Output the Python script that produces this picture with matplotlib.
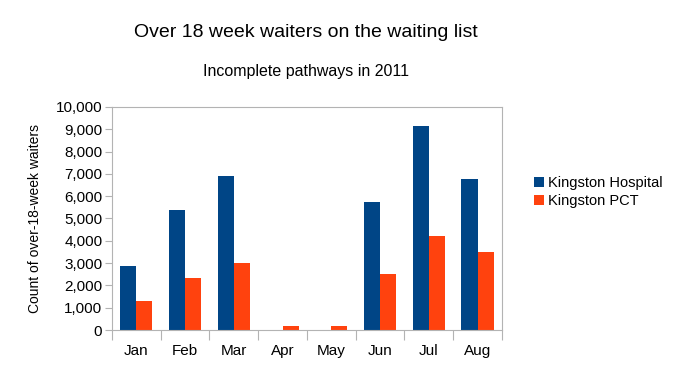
import numpy as np
import matplotlib.pyplot as plt
from matplotlib.ticker import FuncFormatter

plt.rcParams['font.family'] = ['Liberation Sans', 'DejaVu Sans']

months = ['Jan', 'Feb', 'Mar', 'Apr', 'May', 'Jun', 'Jul', 'Aug']
hospital = [2870, 5380, 6890, 0, 0, 5720, 9160, 6760]
pct = [1300, 2320, 3020, 180, 170, 2510, 4230, 3490]

fig = plt.figure(figsize=(6.81, 3.84), dpi=100)
ax = fig.add_axes([0.1645, 0.1406, 0.5725, 0.5808])

x = np.arange(len(months))
w = 0.33
ax.bar(x - w / 2, hospital, w, color='#004586', label='Kingston Hospital')
ax.bar(x + w / 2, pct, w, color='#ff420e', label='Kingston PCT')

ax.set_xlim(-0.5, len(months) - 0.5)
ax.set_ylim(0, 10000)
ax.set_yticks(np.arange(0, 10001, 1000))
ax.yaxis.set_major_formatter(FuncFormatter(lambda v, p: f'{int(v):,}'))

# category boundaries get tick marks, labels sit in between
ax.set_xticks(np.arange(-0.5, len(months), 1))
ax.set_xticklabels([])
ax.set_xticks(x, minor=True)
ax.set_xticklabels(months, minor=True)
ax.tick_params(axis='x', which='major', length=7, color='#b3b3b3')
ax.tick_params(axis='x', which='minor', length=0, pad=10, labelsize=11)
ax.tick_params(axis='y', length=5, color='#b3b3b3', labelsize=11, pad=2)

for s in ax.spines.values():
    s.set_color('#b3b3b3')

ax.set_ylabel('Count of over-18-week waiters', fontsize=10, labelpad=10)

fig.text(0.449, 0.915, 'Over 18 week waiters on the waiting list', ha='center', va='center', fontsize=14)
fig.text(0.449, 0.815, 'Incomplete pathways in 2011', ha='center', va='center', fontsize=11.5)

fig.legend(loc='center left', bbox_to_anchor=(0.775, 0.50), frameon=False,
           fontsize=10.5, handlelength=0.7, handleheight=0.7, handletextpad=0.3,
           labelspacing=0.3, borderaxespad=0)

fig.savefig('out.png', dpi=100)
